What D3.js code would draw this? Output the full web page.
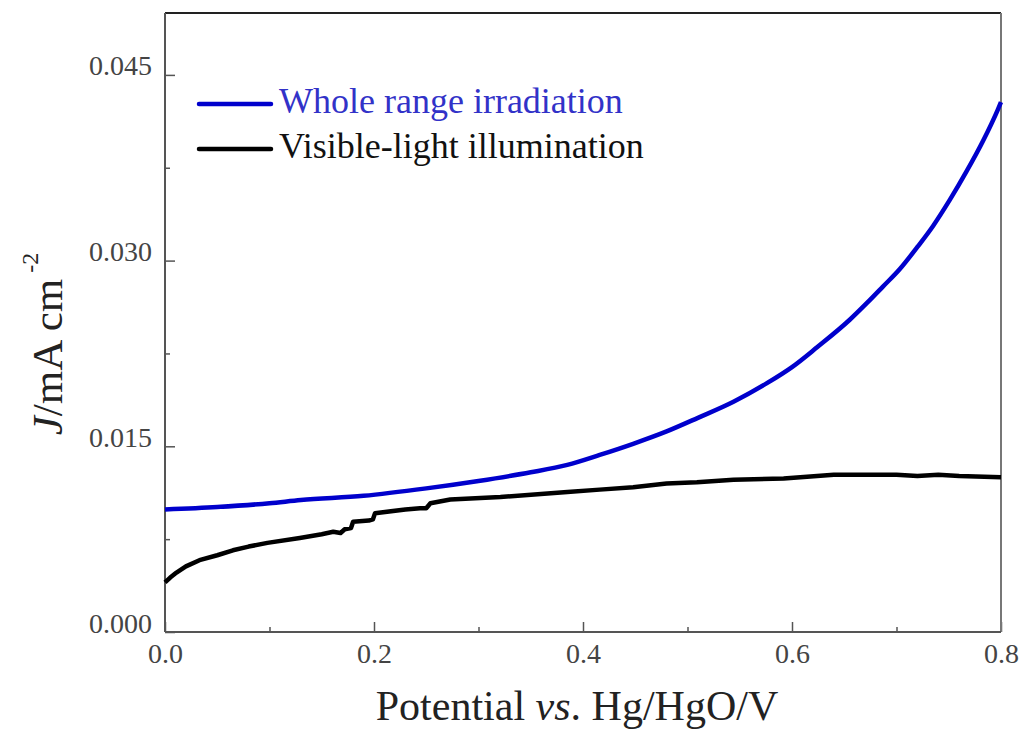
<!DOCTYPE html>
<html>
<head>
<meta charset="utf-8">
<script src="https://cdn.jsdelivr.net/npm/d3@7"></script>
<style>
  html, body { margin: 0; padding: 0; background: #fff; }
  svg { display: block; }
  svg text { font-family: "Liberation Serif", "DejaVu Serif", serif; }
</style>
</head>
<body>
<svg id="grafico" width="1022" height="731"></svg>
<script>
// dados
const potencialTotal = [0.000, 0.050, 0.100, 0.130, 0.190, 0.250, 0.300, 0.350, 0.385, 0.416, 0.448, 0.480,
  0.510, 0.544, 0.576, 0.600, 0.624, 0.655, 0.672, 0.687, 0.703, 0.720, 0.735, 0.751, 0.767, 0.783, 0.797, 0.800];
const correnteTotal = [0.0099, 0.0101, 0.0104, 0.01066, 0.0110, 0.0116, 0.0122, 0.0129, 0.0135, 0.0143, 0.0152, 0.0162,
  0.0173, 0.0186, 0.0201, 0.0214, 0.0230, 0.0252, 0.0266, 0.0279, 0.0293, 0.0311, 0.0328, 0.0349, 0.0372, 0.0397, 0.0422, 0.0428];

const potencialVisivel = [0.000, 0.005, 0.011, 0.020, 0.033, 0.050, 0.065, 0.080, 0.098, 0.129, 0.150, 0.161, 0.168,
  0.172, 0.178, 0.180, 0.195, 0.199, 0.201, 0.230, 0.244, 0.250, 0.254, 0.273, 0.321, 0.385, 0.416, 0.448, 0.480,
  0.509, 0.544, 0.592, 0.608, 0.640, 0.700, 0.720, 0.740, 0.760, 0.800];
const correnteVisivel = [0.0040, 0.0044, 0.0048, 0.0053, 0.0058, 0.0062, 0.0066, 0.0069, 0.0072, 0.0076, 0.0079, 0.0081, 0.0080,
  0.0083, 0.0084, 0.0089, 0.0090, 0.0091, 0.0096, 0.0099, 0.0100, 0.0100, 0.0104, 0.0107, 0.0109, 0.0113, 0.0115, 0.0117, 0.0120,
  0.0121, 0.0123, 0.0124, 0.0125, 0.0127, 0.0127, 0.0126, 0.0127, 0.0126, 0.0125];

const ticksX = [0.0, 0.2, 0.4, 0.6, 0.8];
const ticksXMenores = [0.1, 0.3, 0.5, 0.7];
const ticksY = [0.000, 0.015, 0.030, 0.045];
const ticksYMenores = [0.0075, 0.0225, 0.0375];

const series = [
  { nome: "Whole range irradiation", cor: "#0000cc", corTexto: "#3232c8", curva: d3.curveMonotoneX, x: potencialTotal, y: correnteTotal },
  { nome: "Visible-light illumination", cor: "#000000", corTexto: "#111111", curva: d3.curveLinear, x: potencialVisivel, y: correnteVisivel }
];

const svg = d3.select("#grafico");
const margem = { esq: 165, dir: 1001, topo: 13, base: 632 };

const x = d3.scaleLinear().domain([0, 0.8]).range([margem.esq, margem.dir]);
const y = d3.scaleLinear().domain([0, 0.05]).range([margem.base, margem.topo]);

// eixo x
svg.append("g").attr("transform", `translate(0,${margem.base})`)
  .call(d3.axisBottom(x).tickValues(ticksX).tickFormat(d3.format(".1f"))
    .tickSizeInner(-10).tickSizeOuter(0).tickPadding(11));
svg.append("g").attr("transform", `translate(0,${margem.base})`)
  .call(d3.axisBottom(x).tickValues(ticksXMenores).tickFormat("").tickSizeInner(-5).tickSizeOuter(0));

// eixo y
const eixoY = svg.append("g").attr("transform", `translate(${margem.esq},0)`)
  .call(d3.axisLeft(y).tickValues(ticksY).tickFormat(d3.format(".3f"))
    .tickSizeInner(-10).tickSizeOuter(0).tickPadding(13));
svg.append("g").attr("transform", `translate(${margem.esq},0)`)
  .call(d3.axisLeft(y).tickValues(ticksYMenores).tickFormat("").tickSizeInner(-5).tickSizeOuter(0));

eixoY.selectAll("text").attr("dy", "0em");

svg.selectAll(".domain").remove();
svg.selectAll(".tick line").attr("stroke", "#555").attr("stroke-width", 1.5);
svg.selectAll(".tick text")
  .attr("font-family", "Liberation Serif, serif")
  .attr("font-size", 28)
  .attr("fill", "#444");

// moldura
svg.append("line").attr("x1", margem.esq).attr("x2", margem.dir).attr("y1", margem.topo).attr("y2", margem.topo)
  .attr("stroke", "#222").attr("stroke-width", 2);
svg.append("line").attr("x1", margem.dir).attr("x2", margem.dir).attr("y1", margem.topo).attr("y2", margem.base)
  .attr("stroke", "#777").attr("stroke-width", 2);
svg.append("line").attr("x1", margem.esq).attr("x2", margem.esq).attr("y1", margem.topo).attr("y2", margem.base)
  .attr("stroke", "#555").attr("stroke-width", 2);
svg.append("line").attr("x1", margem.esq).attr("x2", margem.dir).attr("y1", margem.base).attr("y2", margem.base)
  .attr("stroke", "#555").attr("stroke-width", 2);

// curvas
series.forEach(s => {
  const linha = d3.line().curve(s.curva).x(d => x(d[0])).y(d => y(d[1]));
  const pontos = s.x.map((v, i) => [v, s.y[i]]);
  svg.append("path")
    .datum(pontos)
    .attr("d", linha)
    .attr("fill", "none")
    .attr("stroke", s.cor)
    .attr("stroke-width", 4.5)
    .attr("stroke-linejoin", "round");
});

// legenda
const legenda = svg.append("g");
series.forEach((s, i) => {
  const yl = 104 + i * 45;
  legenda.append("line")
    .attr("x1", 199).attr("x2", 271).attr("y1", yl).attr("y2", yl)
    .attr("stroke", s.cor).attr("stroke-width", 4.5).attr("stroke-linecap", "round");
  legenda.append("text")
    .attr("x", 279).attr("y", yl + 9)
    .attr("font-size", 36)
    .attr("fill", s.corTexto)
    .text(s.nome);
});

// título eixo x
const tituloX = svg.append("text")
  .attr("x", (margem.esq + margem.dir) / 2 - 6).attr("y", 720)
  .attr("text-anchor", "middle")
  .attr("font-size", 42)
  .attr("fill", "#222");
tituloX.append("tspan").text("Potential ");
tituloX.append("tspan").attr("font-style", "italic").text("vs");
tituloX.append("tspan").text(". Hg/HgO/V");

// título eixo y
const tituloY = svg.append("text")
  .attr("transform", "translate(62,344) rotate(-90)")
  .attr("text-anchor", "middle")
  .attr("font-size", 43)
  .attr("fill", "#222");
tituloY.append("tspan").attr("font-style", "italic").text("J");
tituloY.append("tspan").text("/mA cm");
tituloY.append("tspan").attr("font-size", 24).attr("dy", -24).attr("dx", 6).text("-2");
</script>
</body>
</html>
